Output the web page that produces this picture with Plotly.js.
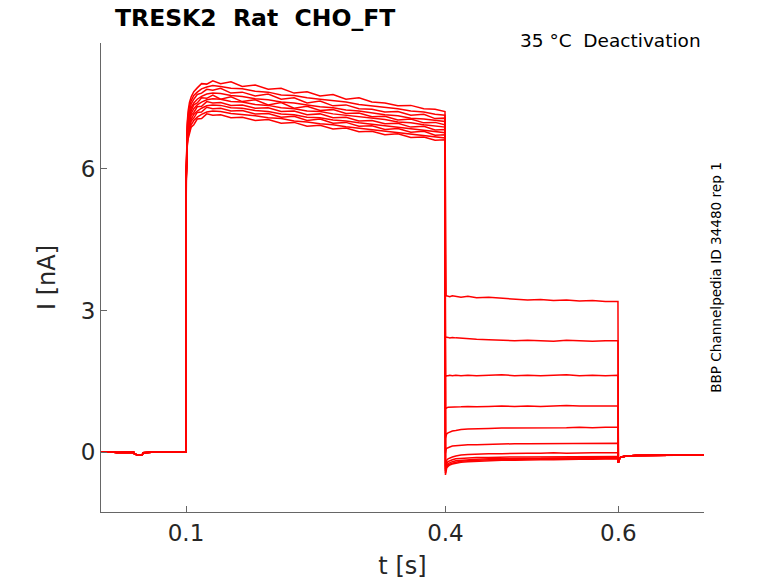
<!DOCTYPE html>
<html>
<head>
<meta charset="utf-8">
<script src="https://cdn.plot.ly/plotly-3.0.1.min.js"></script>
<style>
  html, body { margin: 0; padding: 0; background: #fff; }
  #plot { width: 778px; height: 583px; }
</style>
</head>
<body>
<div id="plot"></div>
<script>
// holding segment, shared by every sweep
var preT = [0, 0.01, 0.02, 0.03, 0.0395, 0.0405, 0.0445, 0.045, 0.0495, 0.0505, 0.06, 0.07, 0.08, 0.09, 0.0998];
var preI = [0, 0.01, -0.005, 0.005, 0, -0.04, -0.05, -0.06, -0.05, -0.01, 0, 0.005, -0.005, 0, 0];

// activation step (same for all sweeps)
var actT = [0.1, 0.1003, 0.1008, 0.1015, 0.1025, 0.104, 0.106, 0.109, 0.113, 0.118,
            0.124, 0.131, 0.14, 0.152, 0.165, 0.18, 0.195, 0.21, 0.225, 0.24,
            0.255, 0.27, 0.285, 0.3, 0.315, 0.33, 0.345, 0.36, 0.375, 0.388, 0.3995];
var act1 = [0, 5.95, 6.62, 7.0, 7.23, 7.40, 7.52, 7.63, 7.71, 7.80, 7.79, 7.86, 7.80, 7.84, 7.74, 7.77, 7.68, 7.70, 7.60, 7.63, 7.54, 7.57, 7.47, 7.50, 7.41, 7.39, 7.33, 7.34, 7.27, 7.26, 7.21];
var act2 = [0, 5.92, 6.58, 6.93, 7.15, 7.32, 7.44, 7.55, 7.62, 7.69, 7.73, 7.76, 7.74, 7.70, 7.69, 7.64, 7.62, 7.56, 7.55, 7.50, 7.47, 7.44, 7.41, 7.36, 7.33, 7.30, 7.27, 7.22, 7.20, 7.15, 7.13];
var act3 = [0, 5.90, 6.55, 6.88, 7.09, 7.25, 7.37, 7.47, 7.57, 7.60, 7.68, 7.66, 7.70, 7.60, 7.62, 7.54, 7.58, 7.47, 7.50, 7.39, 7.43, 7.33, 7.35, 7.27, 7.26, 7.20, 7.21, 7.13, 7.15, 7.06, 7.07];
var act4 = [0, 5.88, 6.50, 6.82, 7.02, 7.17, 7.29, 7.39, 7.47, 7.53, 7.58, 7.60, 7.59, 7.55, 7.53, 7.48, 7.46, 7.41, 7.39, 7.35, 7.31, 7.29, 7.24, 7.22, 7.18, 7.14, 7.12, 7.07, 7.05, 7.02, 7.00];
var act5 = [0, 5.86, 6.47, 6.78, 6.97, 7.11, 7.23, 7.35, 7.39, 7.50, 7.49, 7.56, 7.47, 7.52, 7.42, 7.46, 7.35, 7.40, 7.28, 7.32, 7.23, 7.25, 7.17, 7.18, 7.10, 7.11, 7.03, 7.05, 6.97, 6.98, 6.93];
var act6 = [0, 5.84, 6.43, 6.73, 6.92, 7.06, 7.17, 7.27, 7.35, 7.41, 7.46, 7.48, 7.47, 7.42, 7.41, 7.36, 7.34, 7.29, 7.27, 7.22, 7.21, 7.16, 7.13, 7.10, 7.06, 7.04, 6.99, 6.97, 6.93, 6.90, 6.88];
var act7 = [0, 5.82, 6.40, 6.68, 6.86, 7.00, 7.13, 7.19, 7.31, 7.32, 7.42, 7.39, 7.40, 7.34, 7.35, 7.28, 7.29, 7.21, 7.22, 7.14, 7.16, 7.08, 7.09, 7.01, 7.02, 6.95, 6.96, 6.88, 6.90, 6.82, 6.83];
var act8 = [0, 5.80, 6.36, 6.63, 6.80, 6.94, 7.05, 7.15, 7.22, 7.28, 7.33, 7.35, 7.34, 7.29, 7.28, 7.23, 7.21, 7.16, 7.14, 7.09, 7.08, 7.03, 7.01, 6.97, 6.94, 6.91, 6.87, 6.85, 6.81, 6.78, 6.76];
var act9 = [0, 5.78, 6.32, 6.58, 6.75, 6.88, 7.01, 7.07, 7.19, 7.20, 7.30, 7.27, 7.28, 7.22, 7.23, 7.16, 7.17, 7.09, 7.11, 7.02, 7.05, 6.96, 6.98, 6.90, 6.91, 6.83, 6.85, 6.77, 6.79, 6.71, 6.72];
var act10 = [0, 5.75, 6.28, 6.53, 6.69, 6.82, 6.93, 7.02, 7.09, 7.15, 7.20, 7.22, 7.21, 7.17, 7.15, 7.12, 7.08, 7.06, 7.01, 6.99, 6.95, 6.93, 6.89, 6.86, 6.83, 6.79, 6.77, 6.73, 6.71, 6.67, 6.65];
var act11 = [0, 5.72, 6.24, 6.48, 6.63, 6.76, 6.88, 6.93, 7.05, 7.06, 7.16, 7.13, 7.14, 7.08, 7.09, 7.02, 7.04, 6.96, 6.98, 6.90, 6.92, 6.84, 6.86, 6.78, 6.79, 6.72, 6.74, 6.66, 6.67, 6.60, 6.61];

// tail step, one level per sweep
var tailT = [0.4, 0.4003, 0.4008, 0.4015, 0.403, 0.405, 0.408, 0.412, 0.418, 0.426, 0.436,
             0.45, 0.465, 0.48, 0.495, 0.51, 0.525, 0.54, 0.555, 0.57, 0.585, 0.5995];
var tail1 = [3.32, 3.31, 3.30, 3.31, 3.30, 3.29, 3.31, 3.30, 3.28, 3.30, 3.27, 3.28, 3.26, 3.25, 3.22, 3.23, 3.21, 3.22, 3.20, 3.21, 3.19, 3.19];
var tail2 = [2.44, 2.44, 2.43, 2.43, 2.43, 2.42, 2.43, 2.42, 2.41, 2.41, 2.39, 2.38, 2.37, 2.36, 2.37, 2.36, 2.35, 2.37, 2.36, 2.35, 2.36, 2.36];
var tail3 = [1.60, 1.61, 1.62, 1.62, 1.62, 1.63, 1.62, 1.63, 1.62, 1.63, 1.62, 1.63, 1.64, 1.62, 1.63, 1.62, 1.63, 1.64, 1.62, 1.63, 1.62, 1.63];
var tail4 = [0.92, 0.93, 0.94, 0.94, 0.95, 0.95, 0.95, 0.96, 0.96, 0.97, 0.96, 0.97, 0.98, 0.97, 0.98, 0.97, 0.98, 0.99, 0.98, 0.98, 0.99, 0.98];
var tail5 = [0.30, 0.34, 0.37, 0.39, 0.41, 0.43, 0.45, 0.46, 0.48, 0.49, 0.50, 0.50, 0.51, 0.51, 0.52, 0.51, 0.52, 0.52, 0.53, 0.52, 0.53, 0.53];
var tail6 = [-0.02, 0.03, 0.06, 0.08, 0.10, 0.11, 0.13, 0.14, 0.15, 0.16, 0.16, 0.17, 0.17, 0.18, 0.18, 0.18, 0.19, 0.18, 0.19, 0.19, 0.19, 0.19];
var tail7 = [-0.30, -0.24, -0.20, -0.17, -0.14, -0.12, -0.10, -0.08, -0.06, -0.05, -0.04, -0.03, -0.03, -0.02, -0.02, -0.02, -0.01, -0.02, -0.01, -0.01, -0.01, -0.01];
var tail8 = [-0.36, -0.30, -0.26, -0.23, -0.20, -0.18, -0.16, -0.14, -0.13, -0.12, -0.11, -0.11, -0.10, -0.10, -0.10, -0.10, -0.09, -0.10, -0.09, -0.09, -0.09, -0.09];
var tail9 = [-0.40, -0.34, -0.30, -0.27, -0.24, -0.22, -0.20, -0.18, -0.17, -0.16, -0.15, -0.14, -0.14, -0.13, -0.13, -0.13, -0.12, -0.12, -0.12, -0.12, -0.11, -0.11];
var tail10 = [-0.44, -0.38, -0.33, -0.30, -0.27, -0.25, -0.23, -0.21, -0.19, -0.18, -0.17, -0.16, -0.16, -0.15, -0.15, -0.14, -0.14, -0.14, -0.13, -0.13, -0.13, -0.13];
var tail11 = [-0.48, -0.42, -0.37, -0.33, -0.30, -0.27, -0.25, -0.23, -0.21, -0.20, -0.19, -0.18, -0.17, -0.17, -0.16, -0.16, -0.16, -0.15, -0.15, -0.15, -0.15, -0.14];

// back to holding, shared
var postT = [0.6, 0.6003, 0.6008, 0.6015, 0.603, 0.606, 0.61, 0.62, 0.635, 0.65, 0.665, 0.68, 0.699];
var postI = [-0.22, -0.20, -0.16, -0.13, -0.10, -0.09, -0.08, -0.07, -0.07, -0.065, -0.06, -0.06, -0.06];

var xTicks = [0.1, 0.4, 0.6];
var yTicks = [0, 3, 6];

var acts = [act1, act2, act3, act4, act5, act6, act7, act8, act9, act10, act11];
var tails = [tail1, tail2, tail3, tail4, tail5, tail6, tail7, tail8, tail9, tail10, tail11];

var tAll = preT.concat(actT, tailT, postT);
var data = [];
for (var i = 0; i < acts.length; i++) {
  data.push({
    x: tAll,
    y: preI.concat(acts[i], tails[i], postI),
    mode: 'lines',
    type: 'scatter',
    line: {color: '#ff0000', width: 1.5},
    hoverinfo: 'skip',
    showlegend: false
  });
}

var axisFont = {family: 'DejaVu Sans, sans-serif', size: 23, color: '#262626'};

var layout = {
  width: 778,
  height: 583,
  margin: {l: 101, r: 74, t: 43, b: 71},
  paper_bgcolor: '#fff',
  plot_bgcolor: '#fff',
  font: {family: 'DejaVu Sans, sans-serif', color: '#262626'},
  title: {
    text: 'TRESK2\u00a0 Rat\u00a0 CHO_FT',
    font: {family: 'DejaVu Sans, sans-serif', size: 23.5, color: '#000', weight: 'bold'},
    x: 115 / 778, xanchor: 'left',
    y: 1 - 18 / 583, yanchor: 'middle'
  },
  xaxis: {
    range: [0.0017, 0.699],
    tickvals: xTicks,
    ticktext: xTicks.map(String),
    ticks: 'inside', ticklen: 6, tickcolor: '#666',
    showline: true, linecolor: '#666', linewidth: 1,
    showgrid: false, zeroline: false,
    tickfont: axisFont,
    title: {text: 't [s]', font: {family: 'DejaVu Sans, sans-serif', size: 24, color: '#262626'}, standoff: 12}
  },
  yaxis: {
    range: [-1.265, 8.66],
    tickvals: yTicks,
    ticks: 'inside', ticklen: 6, tickcolor: '#666',
    showline: true, linecolor: '#666', linewidth: 1,
    showgrid: false, zeroline: false,
    tickfont: axisFont,
    title: {text: 'I [nA]', font: {family: 'DejaVu Sans, sans-serif', size: 24, color: '#262626'}, standoff: 18}
  },
  annotations: [
    {
      text: '35 °C\u00a0 Deactivation',
      xref: 'paper', yref: 'paper',
      x: 0.998, xanchor: 'right',
      y: (512 - 41) / 468.7, yanchor: 'middle',
      showarrow: false,
      font: {family: 'DejaVu Sans, sans-serif', size: 18.5, color: '#000'}
    },
    {
      text: 'BBP Channelpedia ID 34480 rep 1',
      xref: 'paper', yref: 'paper',
      x: (716 - 101) / 603, xanchor: 'center',
      y: (512 - 278) / 468.7, yanchor: 'middle',
      textangle: -90,
      showarrow: false,
      font: {family: 'DejaVu Sans, sans-serif', size: 13.6, color: '#000'}
    }
  ]
};

Plotly.newPlot('plot', data, layout, {displayModeBar: false, staticPlot: true});
</script>
</body>
</html>
